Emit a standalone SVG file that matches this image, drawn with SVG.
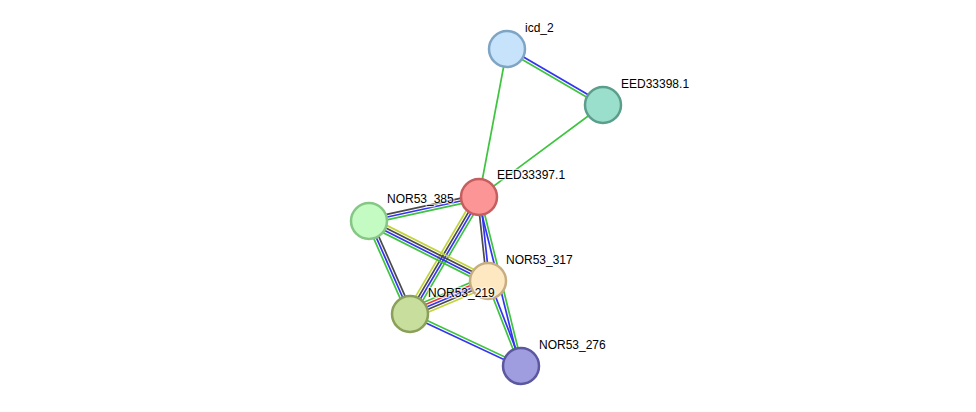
<svg xmlns="http://www.w3.org/2000/svg" width="976" height="412" viewBox="0 0 976 412">
<style>
line{stroke-width:1.7;fill:none}
.g{stroke:#3ec43e}
.b{stroke:#3434f0}
.k{stroke:#4a4a4a}
.y{stroke:#c3d43a}
.r{stroke:#ee3a3a}
.node circle{stroke-width:2.5}
text{font-family:"Liberation Sans",Arial,sans-serif;font-size:12px;fill:#000;stroke:#fff;stroke-width:2.5;stroke-opacity:0.6;paint-order:stroke}
</style>
<rect width="976" height="412" fill="#fff"/>
<g id="connectors">
  <g transform="translate(507 49) rotate(30.26)"><line x2="111.14" y1="-1.35" y2="-1.35" class="b"/><line x2="111.14" y1="1.35" y2="1.35" class="g"/></g>
  <line x1="507" y1="49" x2="479" y2="197" class="g"/>
  <line x1="603" y1="105" x2="479" y2="197" class="g"/>
  <g transform="translate(369 221) rotate(-12.31)"><line x2="112.6" y1="-2.7" y2="-2.7" class="k"/><line x2="112.6" class="b"/><line x2="112.6" y1="2.7" y2="2.7" class="g"/></g>
  <g transform="translate(479 197) rotate(83.88)"><line x2="84.48" y1="1.35" y2="1.35" class="k"/><line x2="84.48" y1="-1.35" y2="-1.35" class="b"/></g>
  <g transform="translate(410 314) rotate(-59.47)"><line x2="135.83" y1="-4.05" y2="-4.05" class="y"/><line x2="135.83" y1="-1.35" y2="-1.35" class="k"/><line x2="135.83" y1="1.35" y2="1.35" class="b"/><line x2="135.83" y1="4.05" y2="4.05" class="g"/></g>
  <g transform="translate(479 197) rotate(76.04)"><line x2="174.14" y1="1.35" y2="1.35" class="b"/><line x2="174.14" y1="-1.35" y2="-1.35" class="g"/></g>
  <g transform="translate(369 221) rotate(26.76)"><line x2="133.27" y1="-4.05" y2="-4.05" class="y"/><line x2="133.27" y1="-1.35" y2="-1.35" class="k"/><line x2="133.27" y1="1.35" y2="1.35" class="b"/><line x2="133.27" y1="4.05" y2="4.05" class="g"/></g>
  <g transform="translate(369 221) rotate(66.21)"><line x2="101.64" y1="2.7" y2="2.7" class="g"/><line x2="101.64" class="b"/><line x2="101.64" y1="-2.7" y2="-2.7" class="k"/></g>
  <g transform="translate(410 314) rotate(-22.93)"><line x2="84.69" y1="-5.4" y2="-5.4" class="g"/><line x2="84.69" y1="-2.7" y2="-2.7" class="r"/><line x2="84.69" class="b"/><line x2="84.69" y1="2.7" y2="2.7" class="k"/><line x2="84.69" y1="5.4" y2="5.4" class="y"/></g>
  <g transform="translate(410 314) rotate(25.1)"><line x2="122.58" y1="-1.35" y2="-1.35" class="g"/><line x2="122.58" y1="1.35" y2="1.35" class="b"/></g>
  <g transform="translate(488 281) rotate(68.78)"><line x2="91.18" y1="1.35" y2="1.35" class="g"/><line x2="91.18" y1="-1.35" y2="-1.35" class="b"/></g>
</g>
<g id="icd_2" class="node"><circle cx="507" cy="49" r="18" fill="#c6e3fb" stroke="#7fa5c5"/><text x="525" y="32">icd_2</text></g>
<g id="EED33398.1" class="node"><circle cx="603" cy="105" r="18" fill="#9adfcc" stroke="#5b9e8b"/><text x="621" y="88">EED33398.1</text></g>
<g id="EED33397.1" class="node"><circle cx="479" cy="197" r="18" fill="#fc9595" stroke="#c55e5e"/><text x="497" y="179">EED33397.1</text></g>
<g id="NOR53_385" class="node"><circle cx="369" cy="221" r="18" fill="#c3fbc3" stroke="#86c786"/><text x="387" y="203">NOR53_385</text></g>
<g id="NOR53_317" class="node"><circle cx="488" cy="281" r="18" fill="#fee8c1" stroke="#c6ae82"/><text x="506" y="264">NOR53_317</text></g>
<g id="NOR53_219" class="node"><circle cx="410" cy="314" r="18" fill="#c7de9c" stroke="#8aa05a"/><text x="428" y="297">NOR53_219</text></g>
<g id="NOR53_276" class="node"><circle cx="521" cy="366" r="18" fill="#a09ce0" stroke="#5c58a0"/><text x="539" y="349">NOR53_276</text></g>
</svg>
